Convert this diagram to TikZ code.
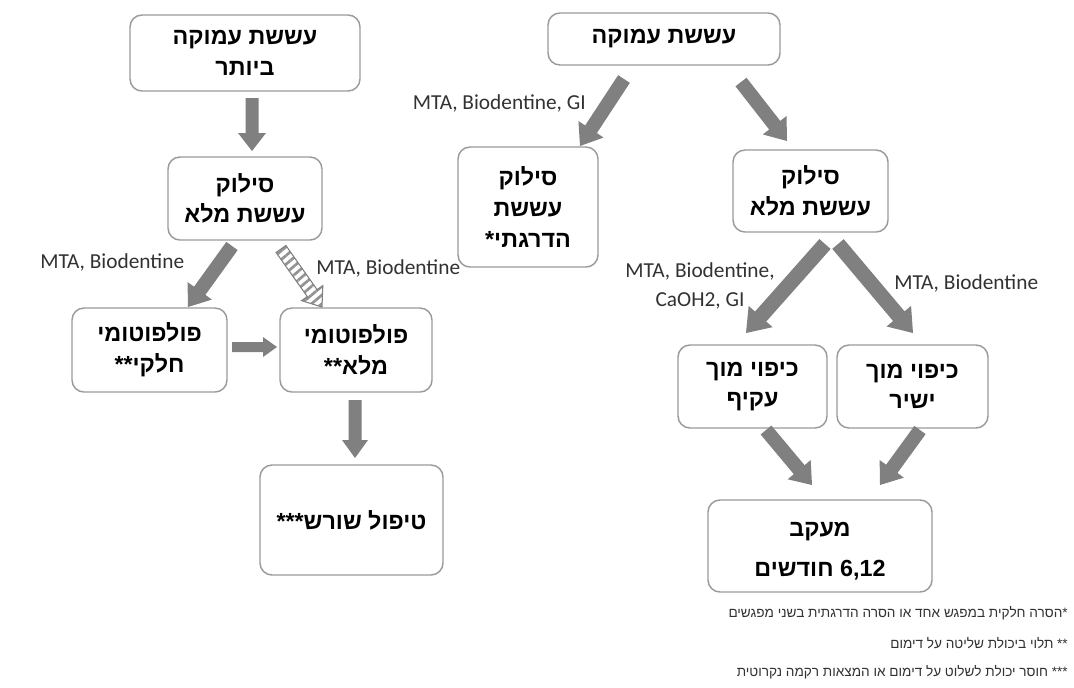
\documentclass[tikz,border=0pt]{standalone}
\usepackage{fontspec}
\usetikzlibrary{calc,patterns.meta}
\TeXXeTstate=1
\newfontfamily\heb[Script=Hebrew]{Liberation Sans}
\newfontfamily\lab{Carlito}
\newcommand\he[1]{\beginR #1\endR}
\definecolor{argray}{RGB}{128,128,128}
\definecolor{bordergray}{RGB}{155,155,155}
\definecolor{txtgray}{RGB}{50,50,50}
% block arrow: [style]{from}{to}{shaft px}{head width px}{head length px}
\newcommand\blkarrow[6][]{%
  \coordinate (bah) at ($(#3)!#6*0.75pt!(#2)$);
  \path[#1] ($(#2)!#4*0.375pt!90:(#3)$) -- ($(bah)!#4*0.375pt!-90:(#2)$) -- ($(bah)!#5*0.375pt!-90:(#2)$) -- (#3) -- ($(bah)!#5*0.375pt!90:(#2)$) -- ($(bah)!#4*0.375pt!90:(#2)$) -- ($(#2)!#4*0.375pt!-90:(#3)$) -- cycle;
}
\tikzset{
  box/.style={draw=bordergray, line width=1.1pt, rounded corners=9pt, fill=white, align=center, inner sep=2pt, text=black,
    font=\heb\bfseries\fontsize{17.5}{23}\selectfont},
  boxtext/.style={align=center, inner sep=0pt, text=black, font=\heb\bfseries\fontsize{17.5}{23}\selectfont},
  sz/.style 2 args={minimum width=#1*0.75pt, minimum height=#2*0.75pt},
  lbl/.style={font=\lab\fontsize{16}{21.75}\selectfont, text=txtgray, inner sep=0pt, align=center},
  note/.style={font=\heb\fontsize{10.2}{12}\selectfont, text=txtgray, inner sep=0pt, anchor=east},
  solidarrow/.style={fill=argray},
  hatcharrow/.style={draw=argray, line width=0.8pt, pattern={Lines[angle=40,distance=5pt,line width=2pt]}, pattern color=argray!85}
}
\begin{document}
\begin{tikzpicture}[x=0.75pt,y=-0.75pt]
\fill[white] (0,0) rectangle (1074,687);
\useasboundingbox (0,0) rectangle (1074,687);

% ---------- left tree ----------
\node[box, sz={230}{76}] (tl) at (245,53) {\he{עששת עמוקה}\\\he{ביותר}};
\node[box, sz={154}{83}] (lsil) at (245,198.5) {\he{סילוק}\\\he{עששת מלא}};
\node[box, sz={155}{84}] (ppart) at (149.5,350) {\he{פולפוטומי}\\\he{חלקי\kern0pt**}};
\node[box, sz={152}{84}] (pfull) at (356,350) {\he{פולפוטומי}\\\he{מלא\kern0pt**}};
\node[box, sz={183}{110}] (root) at (351.5,520) {\he{טיפול שורש\kern0pt***}};

% ---------- right tree ----------
\node[box, sz={232}{52}] (tr) at (664,39) {\he{עששת עמוקה}};
\node[box, sz={140}{120}] (rstep) at (528,207) {\he{סילוק}\\\he{עששת}\\\he{הדרגתי\kern0pt*}};
\node[box, sz={155}{82}] (rsil) at (810.5,191) {\he{סילוק}\\\he{עששת מלא}};
\node[box, sz={149}{83}] (ind) at (752.5,386.5) {\he{כיפוי מוך}\\\he{עקיף}};
\node[box, sz={151}{83}] (dir) at (912.5,386.5) {\he{כיפוי מוך}\\\he{ישיר}};
\node[box, sz={224}{92}] (fol) at (820,546) {};
\node[boxtext] (folt) at (820,551) {\he{מעקב}\\[7pt]\he{\beginL 6,12\endL{} חודשים}};

% ---------- arrow end points ----------
\coordinate (a1s) at (252,98);   \coordinate (a1e) at (252,151);
\coordinate (a2s) at (232,246);  \coordinate (a2e) at (188,307);
\coordinate (a3s) at (281,249);  \coordinate (a3e) at (322,307);
\coordinate (a4s) at (232,347);  \coordinate (a4e) at (277,347);
\coordinate (a5s) at (355,400);  \coordinate (a5e) at (355,458);
\coordinate (a6s) at (624,79);   \coordinate (a6e) at (580,146);
\coordinate (a7s) at (741,82);   \coordinate (a7e) at (787,141);
\coordinate (a8s) at (825,244);  \coordinate (a8e) at (746,333);
\coordinate (a9s) at (838,244);  \coordinate (a9e) at (913,333);
\coordinate (a10s) at (766,430); \coordinate (a10e) at (812,485);
\coordinate (a11s) at (920,430); \coordinate (a11e) at (880,485);

\blkarrow[solidarrow]{a1s}{a1e}{13}{28}{18}
\blkarrow[solidarrow]{a2s}{a2e}{14}{30}{20}
\blkarrow[hatcharrow]{a3s}{a3e}{12}{26}{17}
\blkarrow[solidarrow]{a4s}{a4e}{10}{20}{14}
\blkarrow[solidarrow]{a5s}{a5e}{13}{26}{18}
\blkarrow[solidarrow]{a6s}{a6e}{14}{30}{20}
\blkarrow[solidarrow]{a7s}{a7e}{14}{30}{20}
\blkarrow[solidarrow]{a8s}{a8e}{15}{32}{22}
\blkarrow[solidarrow]{a9s}{a9e}{15}{32}{22}
\blkarrow[solidarrow]{a10s}{a10e}{14}{30}{20}
\blkarrow[solidarrow]{a11s}{a11e}{14}{30}{20}

% ---------- labels ----------
\node[lbl, anchor=east] (l1) at (586,103) {MTA, Biodentine, GI};
\node[lbl, anchor=west] (l2) at (40,262) {MTA, Biodentine};
\node[lbl, anchor=west] (l3) at (316,268) {MTA, Biodentine};
\node[lbl] (l4) at (700,286) {MTA, Biodentine,\\CaOH2, GI};
\node[lbl, anchor=west] (l5) at (894,283) {MTA, Biodentine};

% ---------- footnotes ----------
\node[note] (n1) at (1068,613) {\he{*\kern0pt הסרה חלקית במפגש אחד או הסרה הדרגתית בשני מפגשים}};
\node[note] (n2) at (1068,643) {\he{** תלוי ביכולת שליטה על דימום}};
\node[note] (n3) at (1068,672) {\he{*** חוסר יכולת לשלוט על דימום או המצאות רקמה נקרוטית}};
\end{tikzpicture}
\end{document}
